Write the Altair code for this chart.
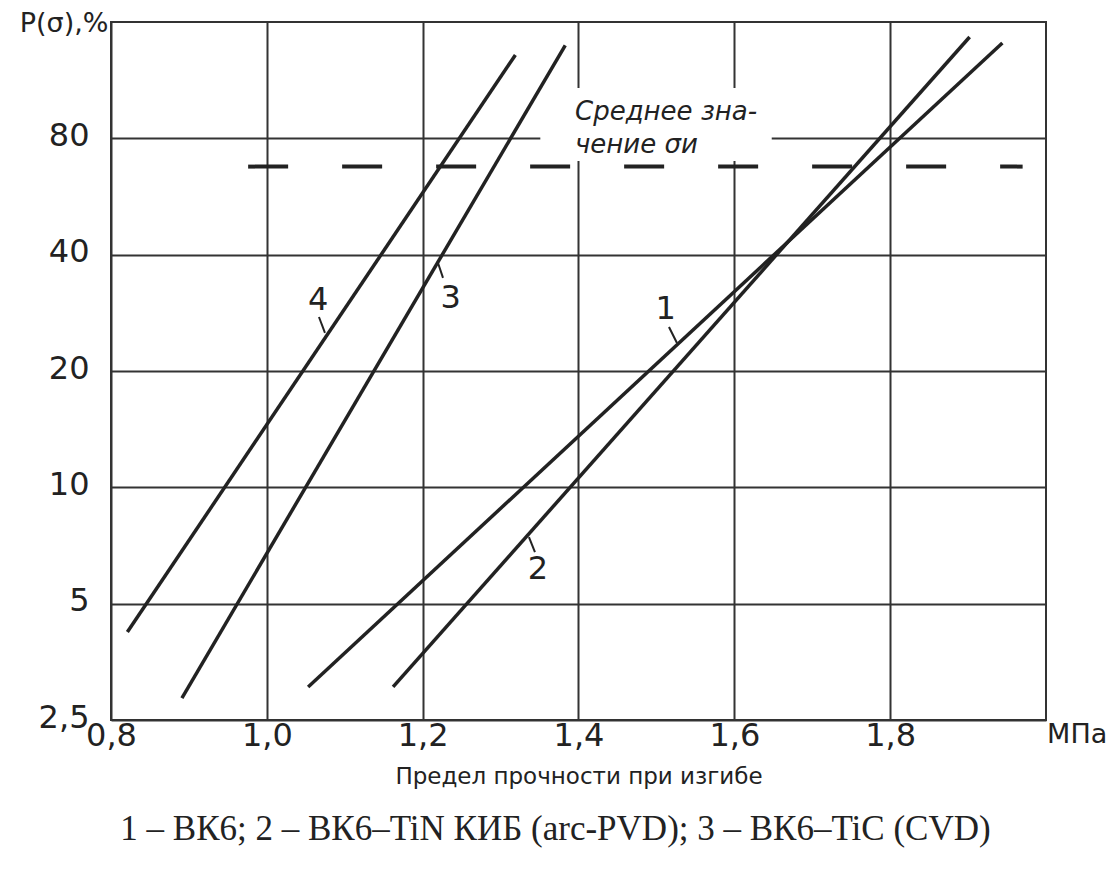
import altair as alt
import pandas as pd

# ---- data ----
# y is the position on the probability grid: 0 -> 2,5 %, 1 -> 5 %, 2 -> 10 %, 3 -> 20 %, 4 -> 40 %, 5 -> 80 %
y_tick_values = [0, 1, 2, 3, 4, 5]
y_tick_labels = ["2,5", "5", "10", "20", "40", "80"]
x_tick_values = [0.8, 1.0, 1.2, 1.4, 1.6, 1.8]

curve_ids = ["1", "1", "2", "2", "3", "3", "4", "4"]
curve_x = [1.053, 1.944, 1.162, 1.902, 0.891, 1.383, 0.821, 1.319]
curve_y = [0.284, 5.820, 0.284, 5.871, 0.189, 5.800, 0.756, 5.717]

label_text = ["1", "2", "3", "4"]
label_x = [1.512, 1.348, 1.236, 1.066]
label_y = [3.533, 1.298, 3.628, 3.610]

leader_x = [1.5161, 1.3441, 1.2261, 1.0669]
leader_y = [3.378, 1.444, 3.800, 3.464]
leader_x2 = [1.5264, 1.3364, 1.2197, 1.0746]
leader_y2 = [3.241, 1.573, 3.928, 3.327]

mean_level = 4.757
mean_x_start = 0.976
mean_x_end = 1.970

note_lines = ["Среднее зна-", "чение σи"]
note_x = [1.3955, 1.3955]
note_y = [5.227, 4.943]

box_x, box_x2, box_y, box_y2 = 1.351, 1.648, 5.433, 4.805

x_title = "Предел прочности при изгибе"
y_title = "P(σ),%"
unit_text = "МПа"
caption = "1 – ВК6; 2 – ВК6–TiN КИБ (arc-PVD); 3 – ВК6–TiC (CVD)"

INK = "#222222"
GRID = "#333333"
SANS = "DejaVu Sans"

xs = alt.Scale(domain=[0.8, 2.0], nice=False, zero=False)
ys = alt.Scale(domain=[0, 6], nice=False, zero=False)

y_expr = "[" + ",".join("'%s'" % t for t in y_tick_labels) + "][datum.value]"

x_axis = alt.Axis(
    values=x_tick_values,
    labelExpr="replace(format(datum.value, '.1f'), '.', ',')",
    title=x_title,
    titleFont=SANS,
    titleFontSize=23,
    titleFontWeight="normal",
    titleColor=INK,
    titleBaseline="middle",
    titleY=56,
    labelPadding=15,
    labelBaseline="middle",
    labelFlush=False,
)
y_axis = alt.Axis(
    values=y_tick_values,
    labelExpr=y_expr,
    title=y_title,
    titleAngle=0,
    titleAlign="right",
    titleBaseline="alphabetic",
    titleX=-3,
    titleY=9,
    titleFont=SANS,
    titleFontSize=27,
    titleFontWeight="normal",
    titleColor=INK,
    labelPadding=22,
    labelOffset=-3,
    labelFlush=False,
)

base_x = alt.X("x:Q", scale=xs, axis=x_axis)
base_y = alt.Y("y:Q", scale=ys, axis=y_axis)

# white box behind the note
box_df = pd.DataFrame({"x": [box_x], "x2": [box_x2], "y": [box_y], "y2": [box_y2]})
box = alt.Chart(box_df).mark_rect(color="white").encode(
    x=base_x, x2="x2:Q", y=base_y, y2="y2:Q"
)

mean_df = pd.DataFrame({"x": [mean_x_start], "x2": [mean_x_end], "y": [mean_level]})
mean_rule = alt.Chart(mean_df).mark_rule(
    color=INK, strokeWidth=4, strokeDash=[40, 54]
).encode(x=base_x, x2="x2:Q", y=base_y)

curves_df = pd.DataFrame({"id": curve_ids, "x": curve_x, "y": curve_y})
curves = alt.Chart(curves_df).mark_line(color=INK, strokeWidth=3.5).encode(
    x=base_x, y=base_y, detail="id:N"
)

leader_df = pd.DataFrame({"x": leader_x, "y": leader_y, "x2": leader_x2, "y2": leader_y2})
leaders = alt.Chart(leader_df).mark_rule(color=INK, strokeWidth=2).encode(
    x=base_x, y=base_y, x2="x2:Q", y2="y2:Q"
)

lab_df = pd.DataFrame({"t": label_text, "x": label_x, "y": label_y})
labels = alt.Chart(lab_df).mark_text(
    font=SANS, fontSize=32, color=INK, baseline="middle", align="center"
).encode(x=base_x, y=base_y, text="t:N")

note_df = pd.DataFrame({"t": note_lines, "x": note_x, "y": note_y})
note = alt.Chart(note_df).mark_text(
    font=SANS, fontSize=26, fontStyle="italic", color=INK,
    align="left", baseline="middle"
).encode(x=base_x, y=base_y, text="t:N")

unit_df = pd.DataFrame({"t": [unit_text], "x": [2.04], "y": [-0.13]})
unit = alt.Chart(unit_df).mark_text(
    font=SANS, fontSize=27, color=INK, align="center", baseline="middle"
).encode(x=base_x, y=base_y, text="t:N")

cap_df = pd.DataFrame({"t": [caption]})
cap = alt.Chart(cap_df).mark_text(
    font="Liberation Serif", fontSize=35, color=INK, align="center", baseline="middle"
).encode(x=alt.value(444.5), y=alt.value(807), text="t:N")

chart = alt.layer(box, mean_rule, curves, leaders, labels, note, unit, cap).properties(
    width=935,
    height=698,
    autosize=alt.AutoSizeParams(type="none"),
    padding={"left": 111, "top": 22, "right": 65, "bottom": 154},
    background="white",
).configure_view(
    stroke=GRID, strokeWidth=2
).configure_axis(
    grid=True,
    gridColor=GRID,
    gridWidth=2,
    gridOpacity=1,
    domain=False,
    ticks=False,
    labelFont=SANS,
    labelFontSize=32,
    labelColor=INK,
)

chart.save("out.html", embed_options={"renderer": "svg", "actions": False})
